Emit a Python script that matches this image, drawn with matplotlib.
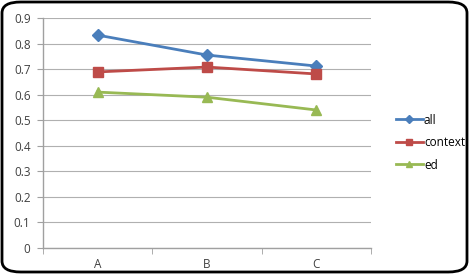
import matplotlib
matplotlib.use("Agg")
import matplotlib.pyplot as plt
from matplotlib.patches import FancyBboxPatch

categories = ["A", "B", "C"]
all_vals = [0.833, 0.755, 0.712]
context_vals = [0.689, 0.708, 0.681]
ed_vals = [0.61, 0.59, 0.54]
yticks = [0, 0.1, 0.2, 0.3, 0.4, 0.5, 0.6, 0.7, 0.8, 0.9]
ytick_labels = ["0", "0.1", "0.2", "0.3", "0.4", "0.5", "0.6", "0.7", "0.8", "0.9"]

plt.rcParams['font.family'] = ['Open Sans', 'DejaVu Sans']

W, H = 469, 274
fig = plt.figure(figsize=(W/100, H/100), dpi=100)
ax = fig.add_axes([43/W, 1-248/H, (371-43)/W, (248-18)/H])

x = list(range(len(categories)))
ax.plot(x, all_vals, color="#4a7ebb", marker="D", markersize=6, linewidth=2, label="all")
ax.plot(x, context_vals, color="#be4b48", marker="s", markersize=7, linewidth=2, label="context")
ax.plot(x, ed_vals, color="#98b954", marker="^", markersize=7, linewidth=2, label="ed")

ax.set_xlim(-0.5, 2.5)
ax.set_ylim(0, 0.9)
ax.set_yticks(yticks)
ax.set_yticklabels(ytick_labels, fontsize=8.5, color="#404040")
ax.set_xticks(x)
ax.set_xticklabels(categories, fontsize=8.5, color="#404040")
ax.set_xticks([-0.5, 0.5, 1.5, 2.5], minor=True)
ax.tick_params(axis='x', which='major', length=0, pad=7)
ax.tick_params(axis='x', which='minor', length=4, color="#a0a0a0", direction='out')
ax.tick_params(axis='y', length=4, color="#a0a0a0", direction='out', pad=5)
ax.grid(axis='y', color="#b0b0b0", linewidth=0.8)
ax.set_axisbelow(True)
for s in ["top", "right"]:
    ax.spines[s].set_visible(False)
for s in ["left", "bottom"]:
    ax.spines[s].set_color("#a0a0a0")
    ax.spines[s].set_linewidth(1)

leg = fig.legend(loc="upper left", bbox_to_anchor=(385/W, 1-103/H), frameon=False,
                 fontsize=8.5, handlelength=2.3, handletextpad=0.1, labelspacing=0.8,
                 markerscale=0.7)

border = FancyBboxPatch((2/W, 2/H), 1-4/W, 1-4/H, boxstyle="round,pad=0,rounding_size=0.04",
                        transform=fig.transFigure, fill=False, edgecolor="black", linewidth=2)
fig.patches.append(border)

fig.savefig("out.png", dpi=100)
